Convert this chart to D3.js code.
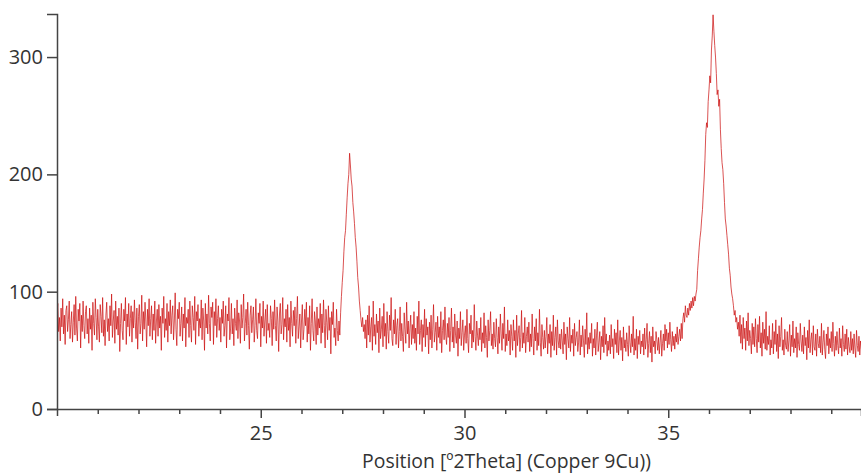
<!DOCTYPE html>
<html>
<head>
<meta charset="utf-8">
<script src="https://cdn.jsdelivr.net/npm/d3@7/dist/d3.min.js"></script>
<style>
  html, body { margin: 0; padding: 0; background: #fff; }
  svg { display: block; }
</style>
</head>
<body>
<svg id="chart" width="861" height="474"></svg>
<script>
// ---- Data (counts vs 2Theta, step 0.02 deg) ----
const stepAngle = 0.02;

const bg1Start = 20.00;
const bg1 = [
82,90,66,78,58,86,70,94,64,80,55,84,88,66,76,92,60,72,83,57,
74,89,63,96,69,58,85,75,90,52,80,66,92,71,60,83,88,64,77,56,
86,68,80,50,91,73,63,94,78,59,85,70,57,89,79,65,95,62,76,54,
80,91,66,77,58,88,71,98,61,75,84,56,92,68,79,63,86,49,73,90,
67,59,85,75,95,55,81,70,90,62,77,88,57,83,69,93,74,60,86,51,
79,89,64,73,97,58,83,68,91,75,53,85,71,94,62,77,88,59,81,67,
92,56,75,85,62,89,69,79,50,86,73,96,61,77,67,90,57,83,71,93,
64,80,88,59,75,99,68,54,85,77,91,62,73,87,58,81,69,95,53,78,
73,85,61,92,71,57,88,78,67,96,55,83,75,89,62,77,69,93,59,86,
75,50,90,69,81,64,97,73,58,87,78,91,55,83,71,94,61,77,88,67,
78,57,85,73,92,62,71,88,52,81,75,95,59,69,90,64,77,54,86,73,
67,93,60,82,75,56,89,69,78,98,58,73,85,63,91,71,51,80,88,65,
76,87,57,71,94,67,60,82,73,90,53,79,69,92,62,75,85,56,89,67,
73,61,88,77,54,83,68,93,71,58,87,75,49,81,90,64,72,95,59,77,
70,85,57,89,67,78,53,92,73,62,84,71,87,56,77,96,60,70,81,52,
75,89,59,68,85,71,91,57,78,64,88,50,73,94,67,58,83,75,55,87,
63,77,69,90,56,81,65,93,71,52,85,74,59,88,67,78,47,83,72,91,
61,69,54,85,67,58,75,63
];

const peak1Start = 26.96;
const peak1 = [
82,96,108,118,134,146,152,166,180,192,200,218,208,196,190,
176,168,158,146,138,126,112,104,92,84,76,70,78,66,72
];

const bg2Start = 27.56;
const bg2 = [
60,76,52,80,63,88,57,70,78,50,92,62,72,55,81,65,75,48,86,60,
68,79,53,90,62,73,51,83,66,56,80,67,95,60,54,76,64,85,55,71,
77,52,66,87,58,73,62,49,82,68,56,91,64,75,52,69,80,55,72,60,
83,56,69,50,79,64,92,55,67,76,49,72,61,85,53,77,63,70,47,74,
59,80,52,68,89,57,65,74,50,79,61,70,56,83,48,67,76,59,87,63,
55,73,61,78,49,67,86,57,70,52,81,63,56,75,45,69,60,83,54,65,
76,50,63,71,56,85,60,48,73,64,80,52,67,57,89,62,50,75,63,54,
69,59,78,49,65,56,82,52,71,61,44,76,58,67,83,54,64,51,74,60,
53,77,61,47,70,56,81,64,50,73,60,87,49,64,54,76,58,67,46,72,
62,50,76,58,67,44,80,54,64,71,49,61,84,52,65,56,78,48,62,70,
57,74,49,64,53,81,60,46,70,58,77,50,65,54,85,57,45,72,61,51,
67,52,62,78,47,64,56,72,44,66,54,80,50,61,70,46,76,58,52,64,
51,68,58,47,74,55,64,42,70,60,52,78,49,63,56,68,45,73,54,61,
66,49,57,76,46,63,53,71,58,44,68,55,82,47,61,51,65,56,73,45,
60,52,68,46,63,74,49,57,66,42,62,53,71,48,78,55,64,45,58,50,
63,47,72,53,60,43,68,55,65,48,76,46,58,67,50,61,41,70,52,59,
49,65,55,45,71,57,48,64,53,79,46,60,50,68,43,62,55,67,47,58,
53,64,46,69,51,59,73,44,56,66,48,62,40,70,53,58,47,66,59,50,
61,47,57,67,45,56,64,50,72,58,68,52,65,55,74,59,49,66,54,62,
51,64,57,70,55,62,68,58,73,60,77,82,74,88,80
];

const peak2Start = 35.46;
const peak2 = [
78,86,80,90,84,92,86,95,88,96,92,98,102,
118,128,138,146,152,162,170,184,196,212,234,244,240,262,272,284,278,
306,318,336,322,310,300,286,268,272,258,264,238,222,210,204,192,176,162,156,148,
140,132,120,114,104,98,94,88,80,84,74,78,68
];

const bg3Start = 36.72;
const bg3 = [
74,62,80,56,72,51,78,60,69,50,75,58,82,54,67,60,47,73,55,70,
53,77,60,48,72,57,79,52,65,45,74,56,68,51,83,50,62,55,71,46,
59,52,73,47,66,55,76,49,64,43,71,53,62,78,50,59,46,68,54,51,
66,49,58,72,45,63,53,75,48,60,52,70,44,65,55,50,73,58,49,63,
47,70,54,61,42,67,52,76,48,59,65,46,71,53,50,64,45,68,56,52,
62,48,73,46,57,67,51,43,64,54,70,47,60,52,66,49,74,56,45,62,
50,66,54,47,69,52,60,45,71,55,49,64,51,68,46,61,53,48,66,50,
60,47,64,52,44,67,54,49,62,46,58,51
];

const majorTicks = [25, 30, 35];
const minorTicks = [21,22,23,24,26,27,28,29,31,32,33,34,36,37,38,39];
const yTicks = [0, 100, 200, 300];
const xTitle = "Position [º2Theta] (Copper 9Cu))";

// ---- Build points ----
const segments = [[bg1Start, bg1],[peak1Start, peak1],[bg2Start, bg2],[peak2Start, peak2],[bg3Start, bg3]];
const points = [];
segments.forEach(([start, vals]) => {
  vals.forEach((v, i) => points.push({ x: start + i * stepAngle, y: v }));
});

// ---- Layout ----
const svg = d3.select("#chart");
const mLeft = 57, mRight = 861, mTop = 14, mBottom = 409;

const x = d3.scaleLinear().domain([20, 39.73]).range([mLeft, mRight]);
const y = d3.scaleLinear().domain([0, 336.7]).range([mBottom, mTop]);

svg.append("defs").append("clipPath").attr("id", "plotclip")
  .append("rect").attr("x", mLeft).attr("y", 0).attr("width", mRight - mLeft).attr("height", mBottom);

// data line
svg.append("path")
  .datum(points)
  .attr("clip-path", "url(#plotclip)")
  .attr("fill", "none")
  .attr("stroke", "#cc1010")
  .attr("stroke-opacity", 0.72)
  .attr("stroke-width", 1)
  .attr("stroke-linejoin", "miter")
  .attr("d", d3.line().x(d => x(d.x)).y(d => y(d.y)));

const axisColor = "#444";

// minor x ticks
const gMinor = svg.append("g").attr("transform", `translate(0,${mBottom})`)
  .call(d3.axisBottom(x).tickValues(minorTicks).tickSize(5).tickSizeOuter(7).tickFormat(""));
// major x ticks
const gMajor = svg.append("g").attr("transform", `translate(0,${mBottom})`)
  .call(d3.axisBottom(x).tickValues(majorTicks).tickSize(9).tickSizeOuter(7).tickPadding(8).tickFormat(d3.format("d")));
gMajor.select(".domain").remove();

// y axis
const gY = svg.append("g").attr("transform", `translate(${mLeft},0)`)
  .call(d3.axisLeft(y).tickValues(yTicks).tickSize(10).tickSizeOuter(10).tickPadding(4).tickFormat(d3.format("d")));

[gMinor, gMajor, gY].forEach(g => {
  g.selectAll(".domain").attr("stroke", axisColor).attr("stroke-width", 1.5);
  g.selectAll(".tick line").attr("stroke", axisColor).attr("stroke-width", 1.5);
  g.selectAll(".tick text").attr("font-size", 20).attr("font-family", "'Open Sans', sans-serif").attr("fill", "#333");
});

// x axis title
svg.append("text")
  .attr("x", 506.5).attr("y", 468)
  .attr("text-anchor", "middle")
  .attr("font-family", "'Open Sans', sans-serif")
  .attr("font-size", 19.4)
  .attr("fill", "#333")
  .text(xTitle);
</script>
</body>
</html>
